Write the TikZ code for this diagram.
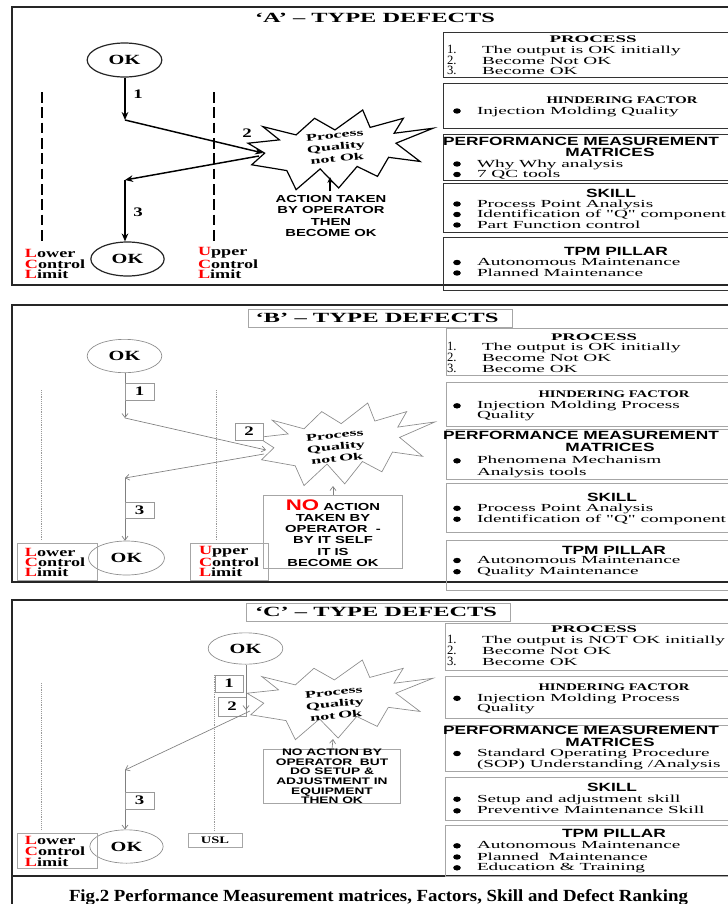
\documentclass[tikz,border=0pt]{standalone}
\usepackage{fontspec}
\usepackage{graphicx}
\usetikzlibrary{arrows.meta,shapes.geometric}
\setmainfont{Liberation Serif}
\newfontfamily\bodyf[FakeStretch=1.78]{Liberation Serif}
\newfontfamily\hdf[FakeStretch=1.45]{Liberation Serif}
\newfontfamily\stf[FakeStretch=1.8]{Liberation Serif}
\newfontfamily\sanf[FakeStretch=1.45]{Liberation Sans}
\newsavebox\hfbox
\newlength\hflen
\newcommand\hfit[2]{\sbox\hfbox{#2}\setlength\hflen{\wd\hfbox}\pgfmathsetmacro\hfr{#1*0.75/\hflen}\scalebox{\hfr}[1]{\usebox\hfbox}}
\newcommand\explosion[5]{%
\begin{scope}[shift={(#1,#2)},xscale=#3,yscale=#4]
\draw[#5] (0,.40) -- (.17,.36) -- (.08,.20) -- (.26,.30) -- (.36,.10) -- (.47,.24) -- (.62,0) -- (.66,.21) -- (.84,.10) -- (.79,.28) -- (1,.22) -- (.80,.40) -- (.93,.62) -- (.76,.57) -- (.70,.80) -- (.59,.68) -- (.49,.94) -- (.39,.71) -- (.26,.96) -- (.21,.73) -- (.02,.66) -- (.09,.52) -- cycle;
\end{scope}}
\newcommand\bul[1]{\fill (457,#1) ellipse [x radius=3.8, y radius=2.7];}
\tikzset{
 px/.style={inner sep=0pt, outer sep=0pt},
 frame/.style={draw=black!85, line width=1.1pt},
 boxa/.style={draw=black!80, line width=0.7pt},
 boxb/.style={draw=black!35, line width=0.6pt},
 bodyt/.style={px, anchor=mid west, font=\bodyf\fontsize{8.1}{9}\selectfont},
 numt/.style={px, anchor=mid west, font=\fontsize{9.5}{10}\selectfont},
 hs/.style={px, font=\hdf\bfseries\fontsize{7.6}{9}\selectfont},
 hsn/.style={px, font=\sanf\bfseries\fontsize{8.95}{10}\selectfont},
 titlet/.style={px, font=\bfseries\fontsize{10.5}{12}\selectfont},
 okbase/.style={ellipse, inner sep=0pt, font=\hdf\bfseries\fontsize{10.5}{12}\selectfont},
 oka/.style={okbase, draw=black!85, line width=0.9pt},
 okb/.style={okbase, draw=black!45, line width=0.5pt},
 numl/.style={px, font=\hdf\bfseries\fontsize{9.75}{11}\selectfont},
 numbox/.style={draw=black!40, line width=0.5pt},
 limt/.style={px, anchor=west, font=\hdf\bfseries\fontsize{9.4}{10}\selectfont},
 start/.style={px, align=center, rotate=6, font=\stf\bfseries\fontsize{7.5}{8.8}\selectfont},
 actt/.style={px, align=center, font=\sanf\bfseries\fontsize{7.65}{8.4}\selectfont},
 actc/.style={px, align=center, font=\sanf\bfseries\fontsize{7.1}{7.2}\selectfont},
 athick/.style={draw=black, line width=1.3pt, -{Stealth[length=6pt,width=5pt]}},
 athin/.style={draw=black!50, line width=0.5pt, -{Straight Barb[length=3pt,width=4.5pt]}},
 dasha/.style={draw=black, line width=1.4pt, dash pattern=on 8pt off 3.5pt},
 dotb/.style={draw=black!40, line width=0.5pt, dash pattern=on 0.6pt off 0.8pt},
 stara/.style={draw=black, line width=0.9pt, line join=miter},
 starb/.style={draw=black!45, line width=0.5pt, line join=miter},
}
\begin{document}
\begin{tikzpicture}[x=0.75pt,y=-0.75pt]
\useasboundingbox (0,0) rectangle (728,904);
\clip (0,0) rectangle (728,904);
\fill[white] (0,0) rectangle (728,904);
% frames
\draw[frame] (12,7) rectangle (745,285);
\draw[frame] (12,305) rectangle (745,582);
\draw[frame] (12,600) rectangle (745,876);
\draw[frame] (12,876) rectangle (745,915);

%%%%%%%%%%%%%%%% PANEL A
\node[titlet] (tA) at (375,18) {\hfit{240}{‘A’ – TYPE DEFECTS}};
\draw[boxa] (443,32) rectangle (790,77);
\draw[boxa] (443,83) rectangle (790,128);
\draw[boxa] (443,134) rectangle (790,180);
\draw[boxa] (443,183) rectangle (790,232);
\draw[boxa] (443,237) rectangle (790,290);
\node[hs] (apH) at (593,39) {\hfit{87}{PROCESS}};
\node[numt] (apn1) at (447,50) {1.};
\node[numt] (apn2) at (447,61) {2.};
\node[numt] (apn3) at (447,71) {3.};
\node[bodyt] (ap1) at (482,50) {The output is OK initially};
\node[bodyt] (ap2) at (482,61) {Become Not OK};
\node[bodyt] (ap3) at (482,71) {Become OK};
\node[hs] (ahH) at (622,100) {HINDERING FACTOR};
\bul{111}\node[bodyt] (ah1) at (477,111) {Injection Molding Quality};
\node[hsn] (amH) at (581,141.5) {PERFORMANCE MEASUREMENT};
\node[hsn] (amH2) at (610,152.5) {MATRICES};
\bul{164}\node[bodyt] (am1) at (477,164) {Why Why analysis};
\bul{174.5}\node[bodyt] (am2) at (477,174.5) {7 QC tools};
\node[hsn] (asH) at (611,193) {SKILL};
\bul{204}\node[bodyt] (as1) at (477,204) {Process Point Analysis};
\bul{214.5}\node[bodyt] (as2) at (477,214.5) {Identification of "Q" component};
\bul{225}\node[bodyt] (as3) at (477,225) {Part Function control};
\node[hsn] (atH) at (616,251) {TPM PILLAR};
\bul{262.5}\node[bodyt] (at1) at (477,262.5) {Autonomous Maintenance};
\bul{273}\node[bodyt] (at2) at (477,273) {Planned Maintenance};
% left
\draw[dasha] (42,92) -- (42,242);
\draw[dasha] (214,92) -- (214,242);
\node[oka, minimum width=56pt, minimum height=25.5pt] (a1) at (124.5,60) {OK};
\node[oka, minimum width=55pt, minimum height=25.5pt] (a4) at (127.5,259) {OK};
\explosion{248}{110}{185}{83}{stara}
\node[start] (aS) at (336,147) {Process\\Quality\\not Ok};
\coordinate (ab1) at (125,120);
\coordinate (ab2) at (263,153);
\coordinate (ab2s) at (259,156);
\coordinate (ab3) at (125,180);
\draw[athick] (a1.south -| ab1) -- (ab1);
\draw[athick, line width=1.1pt] (ab1) -- (ab2);
\draw[athick, line width=1.1pt] (ab2s) -- (ab3);
\draw[athick] (ab3) -- (a4.north -| ab3);
\node[numl] (an1) at (138,94) {1};
\node[numl] (an2) at (247,133) {2};
\node[numl] (an3) at (138,212) {3};
\node[actt] (aA) at (331,216) {ACTION TAKEN\\BY OPERATOR\\THEN\\BECOME OK};
\coordinate (aqs) at (330,191);
\coordinate (aqe) at (330,177);
\draw[athick, line width=1pt, -{Stealth[length=4.5pt,width=4pt]}] (aqs) -- (aqe);
\node[limt] (aL1) at (25,253) {\textcolor{red}{L}ower};
\node[limt] (aL2) at (25,264) {\textcolor{red}{C}ontrol};
\node[limt] (aL3) at (25,274.5) {\textcolor{red}{L}imit};
\node[limt] (aU1) at (198,253) {\textcolor{red}{U}pper};
\node[limt] (aU2) at (198,264) {\textcolor{red}{C}ontrol};
\node[limt] (aU3) at (198,274.5) {\textcolor{red}{L}imit};

%%%%%%%%%%%%%%%% PANEL B
\draw[boxb] (248,309) rectangle (512,327);
\node[titlet] (tB) at (377,318) {\hfit{243}{‘B’ – TYPE DEFECTS}};
\draw[boxb] (446,328) rectangle (790,375);
\draw[boxb] (446,382) rectangle (790,426);
\draw[boxb] (446,429) rectangle (790,479);
\draw[boxb] (446,483) rectangle (790,532);
\draw[boxb] (446,540) rectangle (790,590);
\node[hs] (bpH) at (594,337.2) {\hfit{86}{PROCESS}};
\node[numt] (bpn1) at (447,347.5) {1.};
\node[numt] (bpn2) at (447,358) {2.};
\node[numt] (bpn3) at (447,369.2) {3.};
\node[bodyt] (bp1) at (482,347.5) {The output is OK initially};
\node[bodyt] (bp2) at (482,358) {Become Not OK};
\node[bodyt] (bp3) at (482,369.2) {Become OK};
\node[hs] (bhH) at (614,393.8) {HINDERING FACTOR};
\bul{405.8}\node[bodyt] (bh1) at (477,405.8) {Injection Molding Process};
\node[bodyt] (bh2) at (477,415.8) {Quality};
\node[hsn] (bmH) at (581,435.8) {PERFORMANCE MEASUREMENT};
\node[hsn] (bmH2) at (610,447.5) {MATRICES};
\bul{460.8}\node[bodyt] (bm1) at (477,460.8) {Phenomena Mechanism};
\node[bodyt] (bm2) at (477,472.5) {Analysis tools};
\node[hsn] (bsH) at (612,497.2) {SKILL};
\bul{508.3}\node[bodyt] (bs1) at (477,508.3) {Process Point Analysis};
\bul{519.2}\node[bodyt] (bs2) at (477,519.2) {Identification of "Q" component};
\node[hsn] (btH) at (614,550.5) {TPM PILLAR};
\bul{560.5}\node[bodyt] (bt1) at (477,560.5) {Autonomous Maintenance};
\bul{571.7}\node[bodyt] (bt2) at (477,571.7) {Quality Maintenance};
% left
\draw[dotb] (41.5,390) -- (41.5,540);
\draw[dotb] (216,390) -- (216,540);
\node[okb, minimum width=56pt, minimum height=25pt] (b1) at (124.5,356) {OK};
\node[okb, minimum width=57pt, minimum height=25.5pt] (b4) at (126.5,558) {OK};
\explosion{258}{403}{177}{86}{starb}
\node[start] (bS) at (336,447) {Process\\Quality\\not\hspace{0.3em}Ok};
\coordinate (bb1) at (125,418);
\coordinate (bb2) at (266,450);
\coordinate (bb2s) at (264,454);
\coordinate (bb3) at (125,478);
\draw[athin] (b1.south -| bb1) -- (bb1);
\draw[athin] (bb1) -- (bb2);
\draw[athin] (bb2s) -- (bb3);
\draw[athin] (bb3) -- (b4.north -| bb3);
\draw[numbox, fill=white] (125,383) rectangle (154,400);
\node[numl] (bn1) at (139.5,391.5) {1};
\draw[numbox, fill=white] (235,423) rectangle (263,440);
\node[numl] (bn2) at (249,431.5) {2};
\draw[numbox, fill=white] (125,502) rectangle (154,518);
\node[numl] (bn3) at (139.5,510) {3};
\draw[boxb] (263,495) rectangle (402,568);
\node[actt] (bA) at (333,533) {\textcolor{red}{\fontsize{11.5}{8.4}\selectfont NO} ACTION\\TAKEN BY\\OPERATOR\ \ -\\BY IT SELF\\IT IS\\BECOME OK};
\coordinate (bq) at (333,486);
\draw[athin] (bA.north |- 0,495) -- (bq);
\draw[boxb] (17,543) rectangle (97,580);
\draw[boxb] (190,543) rectangle (268,580);
\node[limt] (bL1) at (25,552) {\textcolor{red}{L}ower};
\node[limt] (bL2) at (25,562) {\textcolor{red}{C}ontrol};
\node[limt] (bL3) at (25,572.5) {\textcolor{red}{L}imit};
\node[limt] (bU1) at (199,552) {\textcolor{red}{U}pper};
\node[limt] (bU2) at (199,562) {\textcolor{red}{C}ontrol};
\node[limt] (bU3) at (199,572.5) {\textcolor{red}{L}imit};

%%%%%%%%%%%%%%%% PANEL C
\draw[boxb] (246,603) rectangle (510,621);
\node[titlet] (tC) at (376,612) {\hfit{242}{‘C’ – TYPE DEFECTS}};
\draw[boxb] (445,623) rectangle (790,670);
\draw[boxb] (445,676) rectangle (790,718);
\draw[boxb] (445,725) rectangle (790,771);
\draw[boxb] (445,777) rectangle (790,820);
\draw[boxb] (445,825) rectangle (790,876);
\node[hs] (cpH) at (594,629.3) {\hfit{86}{PROCESS}};
\node[numt] (cpn1) at (447,640.8) {1.};
\node[numt] (cpn2) at (447,651.5) {2.};
\node[numt] (cpn3) at (447,662.2) {3.};
\node[bodyt] (cp1) at (482,640.8) {The output is NOT OK initially};
\node[bodyt] (cp2) at (482,651.5) {Become Not OK};
\node[bodyt] (cp3) at (482,662.2) {Become OK};
\node[hs] (chH) at (614,687) {HINDERING FACTOR};
\bul{698.3}\node[bodyt] (ch1) at (477,698.3) {Injection Molding Process};
\node[bodyt] (ch2) at (477,708.5) {Quality};
\node[hsn] (cmH) at (581,730.8) {PERFORMANCE MEASUREMENT};
\node[hsn] (cmH2) at (610,742.2) {MATRICES};
\bul{753.5}\node[bodyt] (cm1) at (477,753.5) {Standard Operating Procedure};
\node[bodyt] (cm2) at (477,764.5) {(SOP) Understanding /Analysis};
\node[hsn] (csH) at (612,787) {SKILL};
\bul{799.2}\node[bodyt] (cs1) at (477,799.2) {Setup and adjustment skill};
\bul{810.8}\node[bodyt] (cs2) at (477,810.8) {Preventive Maintenance Skill};
\node[hsn] (ctH) at (614,833.7) {TPM PILLAR};
\bul{845.8}\node[bodyt] (ct1) at (477,845.8) {Autonomous Maintenance};
\bul{857}\node[bodyt] (ct2) at (477,857) {Planned\ \ Maintenance};
\bul{867.8}\node[bodyt] (ct3) at (477,867.8) {Education \& Training};
% left
\draw[dotb] (41.5,683) -- (41.5,830);
\draw[dotb] (214.5,675) -- (214.5,830);
\node[okb, minimum width=56pt, minimum height=23.5pt] (c1) at (245.5,648.5) {OK};
\node[okb, minimum width=55pt, minimum height=25pt] (c4) at (126.5,846.5) {OK};
\explosion{247}{660}{186}{83}{starb}
\node[start] (cS) at (335,704) {Process\\Quality\\not\hspace{0.3em}Ok};
\draw[numbox, fill=white] (215,675) rectangle (243,692);
\node[numl] (cn1) at (229,683.5) {1};
\draw[numbox, fill=white] (218,697) rectangle (246,716);
\node[numl] (cn2) at (232,706.5) {2};
\coordinate (cb1) at (246,710);
\coordinate (cb2s) at (250,711);
\coordinate (cb3) at (125,770);
\draw[athin] (c1.south -| cb1) -- (cb1);
\draw[athin] (cb2s) -- (cb3);
\draw[athin] (cb3) -- (c4.north -| cb3);
\draw[numbox, fill=white] (125,792) rectangle (154,809);
\node[numl] (cn3) at (139.5,800.5) {3};
\draw[boxb] (263,749) rectangle (400,803);
\node[actc] (cA) at (332,776.5) {NO ACTION BY\\OPERATOR\ \ BUT\\DO SETUP \&\\ADJUSTMENT IN\\EQUIPMENT\\THEN OK};
\coordinate (cq) at (333,739);
\draw[athin] (cA.north |- 0,749) -- (cq);
\draw[boxb] (188,833) rectangle (242,847);
\node[numl, font=\hdf\bfseries\fontsize{7.5}{8}\selectfont] (cU) at (215,840) {USL};
\draw[boxb] (17,833) rectangle (97,868);
\node[limt] (cL1) at (25,840.7) {\textcolor{red}{L}ower};
\node[limt] (cL2) at (25,851.2) {\textcolor{red}{C}ontrol};
\node[limt] (cL3) at (25,862) {\textcolor{red}{L}imit};

% caption
\node[px, anchor=base, font=\bfseries\fontsize{12.75}{14}\selectfont] (cap) at (378.5,901.5) {\hfit{619}{Fig.2 Performance Measurement matrices, Factors, Skill and Defect Ranking}};
\end{tikzpicture}
\end{document}
